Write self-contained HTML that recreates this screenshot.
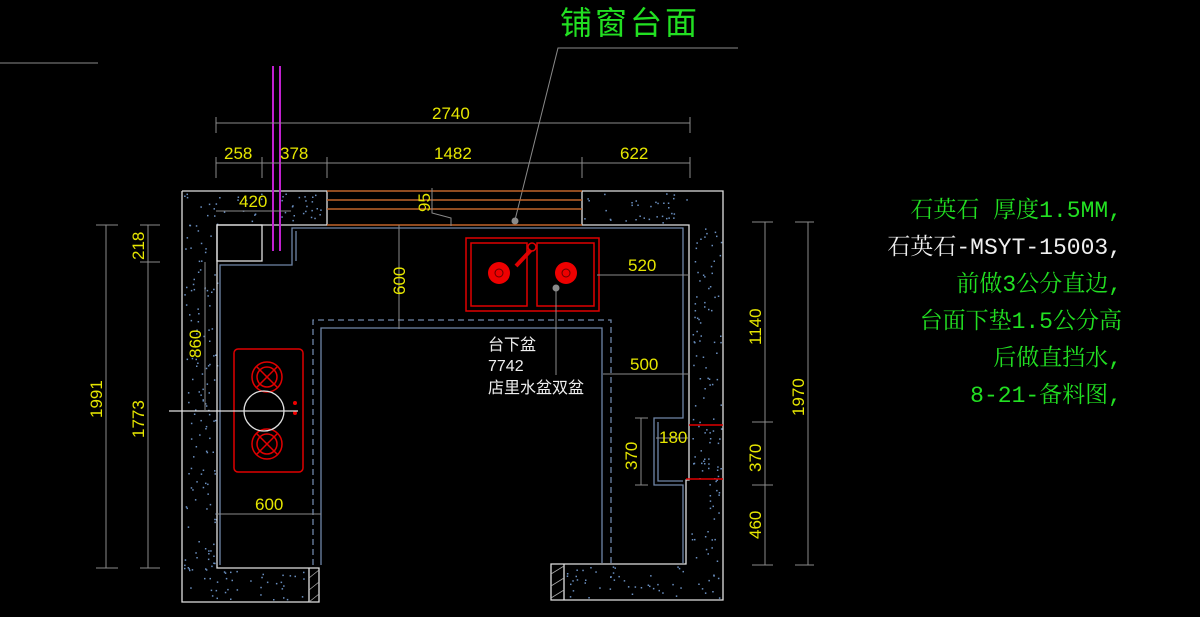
<!DOCTYPE html>
<html><head><meta charset="utf-8"><style>
html,body{margin:0;padding:0;background:#000;width:1200px;height:617px;overflow:hidden}
svg{display:block}
.d{stroke:#8a8a8a;stroke-width:1;fill:none}
.y{fill:#e6e600;font-family:"Liberation Sans Narrow","Liberation Sans",sans-serif;font-size:17px}
.w{stroke:#e0e0e0;stroke-width:1.3;fill:none}
.b{stroke:#6f86a8;stroke-width:1.3;fill:none}
.r{stroke:#e00000;stroke-width:1.5;fill:none}
.o{stroke:#c0642a;stroke-width:1.5}
.g{font-family:"Liberation Mono","Noto Serif CJK SC",monospace;font-size:23px;fill:#22e022}
</style></head><body>
<svg width="1200" height="617" viewBox="0 0 1200 617" xmlns="http://www.w3.org/2000/svg">
<g id="dots"></g>
<line x1="0" y1="63" x2="98" y2="63" class="d"/>
<text x="560" y="34" style="font-family:'Noto Sans CJK SC',sans-serif;font-size:32px;fill:#22e022;letter-spacing:3px">铺窗台面</text>
<polyline points="515,220 558,48 738,48" class="d"/>
<circle cx="515" cy="221" r="3.5" fill="#8a8a8a"/>
<polyline class="w" points="182,191 327,191 327,225 217,225 217,568 319,568 319,602 182,602 182,191"/>
<rect x="217" y="225" width="45" height="36" class="w"/>
<polyline class="w" points="582,191 723,191 723,600 551,600 551,564 686,564 686,480 689,480 689,225 582,225 582,191"/>
<line x1="309" y1="568" x2="309" y2="602" class="w"/>
<line x1="564" y1="564" x2="564" y2="600" class="w"/>
<g stroke="#aaa" stroke-width="0.8">
<line x1="309" y1="578" x2="319" y2="570"/><line x1="309" y1="590" x2="319" y2="582"/><line x1="309" y1="602" x2="319" y2="594"/>
<line x1="551" y1="574" x2="564" y2="566"/><line x1="551" y1="586" x2="564" y2="578"/><line x1="551" y1="598" x2="564" y2="590"/>
</g>
<line x1="689" y1="425" x2="723" y2="425" stroke="#e00000" stroke-width="1.5"/>
<line x1="686" y1="479" x2="723" y2="479" stroke="#e00000" stroke-width="1.5"/>
<line x1="327" y1="191" x2="582" y2="191" class="o"/>
<line x1="327" y1="200" x2="582" y2="200" class="o"/>
<line x1="327" y1="209" x2="582" y2="209" class="o"/>
<line x1="327" y1="225" x2="582" y2="225" class="o"/>
<polyline class="b" points="220,565 220,265 292,265 292,228 683,228 683,418 654,418 654,485 683,485 683,563"/>
<polyline class="b" points="296,261 296,231" />
<polyline class="b" points="321,565 321,328 602,328 602,563"/>
<polyline class="b" points="313,565 313,320 611,320 611,563" stroke-dasharray="6,4"/>
<polyline class="b" points="658,422 658,481 683,481"/>
<line x1="273" y1="66" x2="273" y2="251" stroke="#c020d0" stroke-width="2"/>
<line x1="280" y1="66" x2="280" y2="251" stroke="#c020d0" stroke-width="2"/>
<rect x="466" y="238" width="133" height="73" class="r"/>
<rect x="471" y="243" width="56" height="63" class="r"/>
<rect x="537" y="243" width="57" height="63" class="r"/>
<circle cx="499" cy="273" r="11" fill="#ee0000"/><circle cx="499" cy="273" r="4" fill="none" stroke="#600" />
<circle cx="566" cy="273" r="11" fill="#ee0000"/><circle cx="566" cy="273" r="4" fill="none" stroke="#600"/>
<circle cx="532" cy="247" r="4" class="r"/>
<line x1="531" y1="250" x2="516" y2="266" stroke="#e00000" stroke-width="4"/>
<rect x="234" y="349" width="69" height="123" rx="4" class="r"/>
<g class="r"><circle cx="267" cy="377" r="15"/><circle cx="267" cy="377" r="10"/><circle cx="267" cy="444" r="15"/><circle cx="267" cy="444" r="10"/>
<line x1="256" y1="366" x2="278" y2="388"/><line x1="278" y1="366" x2="256" y2="388"/><line x1="256" y1="433" x2="278" y2="455"/><line x1="278" y1="433" x2="256" y2="455"/></g>
<circle cx="295" cy="403" r="2" fill="#e00"/><circle cx="295" cy="413" r="2" fill="#e00"/>
<circle cx="264" cy="411" r="20" class="w"/>
<line x1="169" y1="411" x2="298" y2="411" class="w"/>
<g class="d">
<line x1="216" y1="123" x2="690" y2="123"/><line x1="216" y1="117" x2="216" y2="133"/><line x1="690" y1="117" x2="690" y2="133"/>
<line x1="216" y1="163" x2="690" y2="163"/>
<line x1="216" y1="157" x2="216" y2="178"/><line x1="262" y1="157" x2="262" y2="178"/><line x1="327" y1="157" x2="327" y2="178"/><line x1="582" y1="157" x2="582" y2="178"/><line x1="690" y1="157" x2="690" y2="178"/>
<line x1="216" y1="211" x2="291" y2="211"/>
<line x1="106" y1="225" x2="106" y2="568"/><line x1="96" y1="225" x2="118" y2="225"/><line x1="96" y1="568" x2="118" y2="568"/>
<line x1="148" y1="225" x2="148" y2="568"/><line x1="140" y1="225" x2="160" y2="225"/><line x1="140" y1="262" x2="160" y2="262"/><line x1="140" y1="568" x2="160" y2="568"/>
<line x1="205" y1="262" x2="205" y2="411"/>
<line x1="216" y1="514" x2="321" y2="514"/>
<line x1="399" y1="225" x2="399" y2="329"/>
<line x1="597" y1="275" x2="690" y2="275"/>
<line x1="603" y1="374" x2="690" y2="374"/>
<line x1="656" y1="438" x2="690" y2="438"/>
<line x1="641" y1="418" x2="641" y2="485"/><line x1="635" y1="418" x2="648" y2="418"/><line x1="635" y1="485" x2="648" y2="485"/>
<line x1="765" y1="222" x2="765" y2="565"/><line x1="752" y1="222" x2="773" y2="222"/><line x1="752" y1="422" x2="773" y2="422"/><line x1="752" y1="485" x2="773" y2="485"/><line x1="752" y1="565" x2="773" y2="565"/>
<line x1="808" y1="222" x2="808" y2="565"/><line x1="795" y1="222" x2="814" y2="222"/><line x1="795" y1="565" x2="814" y2="565"/>
<polyline points="432,188 432,213 451,218 451,226"/>
<line x1="556" y1="288" x2="556" y2="375"/>
</g>
<circle cx="556" cy="288" r="3.5" fill="#8a8a8a"/>
<g class="y">
<text x="432" y="119">2740</text>
<text x="224" y="159">258</text><text x="280" y="159">378</text><text x="434" y="159">1482</text><text x="620" y="159">622</text>
<text x="239" y="207">420</text>
<text x="628" y="271">520</text><text x="630" y="370">500</text><text x="659" y="443">180</text>
<text x="255" y="510">600</text>
<text transform="translate(430,212) rotate(-90)">95</text>
<text transform="translate(405,295) rotate(-90)">600</text>
<text transform="translate(102,418) rotate(-90)">1991</text>
<text transform="translate(144,260) rotate(-90)">218</text>
<text transform="translate(144,438) rotate(-90)">1773</text>
<text transform="translate(201,358) rotate(-90)">860</text>
<text transform="translate(637,470) rotate(-90)">370</text>
<text transform="translate(761,345) rotate(-90)">1140</text>
<text transform="translate(761,472) rotate(-90)">370</text>
<text transform="translate(761,539) rotate(-90)">460</text>
<text transform="translate(804,416) rotate(-90)">1970</text>
</g>
<g style="font-family:'Liberation Sans','Noto Sans CJK SC',sans-serif;font-size:16px;fill:#eee">
<text x="488" y="350">台下盆</text><text x="488" y="371">7742</text><text x="488" y="393">店里水盆双盆</text>
</g>
<g class="g" text-anchor="end">
<text x="1122" y="217">石英石 厚度1.5MM,</text>
<text x="1122" y="254" fill="#f0f0f0">石英石-MSYT-15003,</text>
<text x="1122" y="291">前做3公分直边,</text>
<text x="1122" y="328">台面下垫1.5公分高</text>
<text x="1122" y="365">后做直挡水,</text>
<text x="1122" y="402">8-21-备料图,</text>
</g>
</svg>
<script>
var g=document.getElementById('dots'),s=7,h='';
function r(){s=(s*16807)%2147483647;return s/2147483647;}
var areas=[[184,193,33,407],[219,193,106,30],[219,570,88,30],[584,193,103,30],[691,228,30,370],[566,566,120,32]];
for(var a of areas){var n=Math.floor(a[2]*a[3]/90);for(var i=0;i<n;i++){h+='<rect x="'+(a[0]+r()*a[2]).toFixed(1)+'" y="'+(a[1]+r()*a[3]).toFixed(1)+'" width="1.5" height="1.5" fill="#6a8fc0"/>';}}
g.innerHTML=h;
</script>
</body></html>
